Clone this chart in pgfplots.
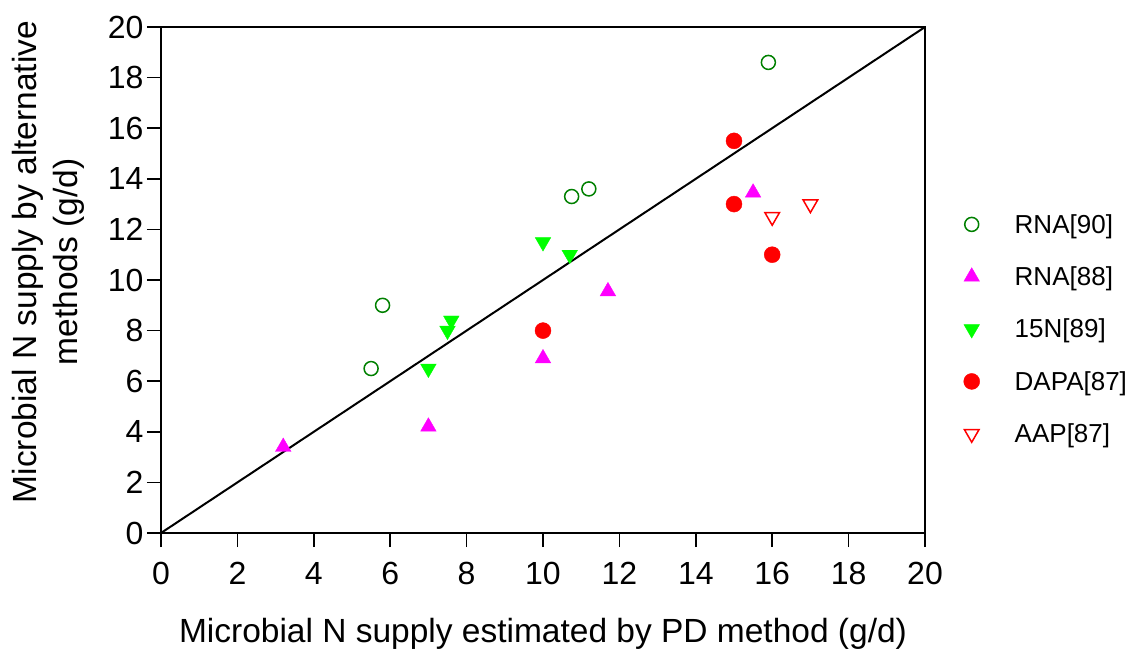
\documentclass[border=0pt]{standalone}
\usepackage{fontspec}
\setmainfont{Liberation Sans}
\usepackage{pgfplots}
\pgfplotsset{compat=1.18}

\definecolor{dkgreen}{RGB}{0,128,0}
\definecolor{brgreen}{RGB}{0,255,0}
\definecolor{mag}{RGB}{255,0,255}
\definecolor{red1}{RGB}{255,0,0}

\begin{document}
\begin{tikzpicture}
\begin{axis}[
    scale only axis,
    width=764pt, height=506pt,
    xmin=0, xmax=20, ymin=0, ymax=20,
    xtick={0,2,...,20}, ytick={0,2,...,20},
    xtick pos=bottom, ytick pos=left,
    tick align=outside,
    major tick length=14pt,
    axis line style={line width=1.5pt},
    every tick/.style={black, line width=1.5pt},
    /pgf/number format/assume math mode=true,
    ticklabel style={font=\fontsize{32}{38}\selectfont},
    xticklabel style={yshift=-12pt},
    label style={font=\fontsize{33.5}{41}\selectfont},
    xlabel={Microbial N supply estimated by PD method (g/d)},
    ylabel={Microbial N supply by alternative\\methods (g/d)},
    ylabel style={at={(axis description cs:-0.148,0.5356)}, anchor=center, align=center},
    xlabel style={at={(axis description cs:0.5,0)}, anchor=center, yshift=-101pt},
    legend style={draw=none, fill=none, at={(axis description cs:1.0465,0.403)}, anchor=west,
        font=\fontsize{26}{31}\selectfont, row sep=28pt,
        /tikz/every odd column/.append style={column sep=33pt}},
    legend cell align=left,
]
\addplot[black, line width=2pt, forget plot] coordinates {(0,0) (20,20)};

\addplot[only marks, mark=o, dkgreen, mark size=7pt, line width=1.5pt] coordinates {
    (15.9,18.6) (10.75,13.3) (11.2,13.6) (5.8,9.0) (5.5,6.5)
};
\addlegendentry{RNA[90]}

\addplot[only marks, mark=triangle*, mag, mark size=9pt] coordinates {
    (3.2,3.4) (7.0,4.2) (10.0,6.9) (11.7,9.55) (15.5,13.45)
};
\addlegendentry{RNA[88]}

\addplot[only marks, mark=triangle*, brgreen, mark size=9pt, mark options={rotate=180}] coordinates {
    (10.0,11.5) (10.7,11.0) (7.6,8.4) (7.5,8.0) (7.0,6.5)
};
\addlegendentry{15N[89]}

\addplot[only marks, mark=*, red1, mark size=8pt] coordinates {
    (15.0,15.5) (15.0,13.0) (16.0,11.0) (10.0,8.0)
};
\addlegendentry{DAPA[87]}

\addplot[only marks, mark=triangle, red1, mark size=8.5pt, line width=1.5pt, mark options={rotate=180}] coordinates {
    (16.0,12.5) (17.0,13.0)
};
\addlegendentry{AAP[87]}
\end{axis}
\path (current axis.south west) ++(-161pt,-119pt) rectangle ++(1138pt,652pt);
\end{tikzpicture}
\end{document}
